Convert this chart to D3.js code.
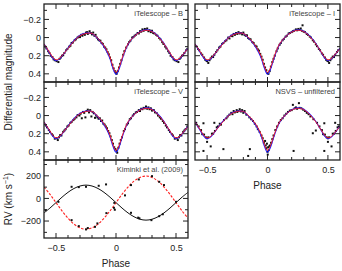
<!DOCTYPE html>
<html>
<head>
<meta charset="utf-8">
<script src="https://cdn.jsdelivr.net/npm/d3@7"></script>
<style>
body { margin: 0; background: #fff; }
svg { display: block; font-family: "Liberation Sans", Arial, Helvetica, sans-serif; }
</style>
</head>
<body>
<script>
// model light curves, shared by the four photometric panels
var modelPhase = [-0.6,-0.575,-0.55,-0.525,-0.5,-0.475,-0.45,-0.425,-0.4,-0.35,-0.3,-0.25,-0.2,-0.15,-0.1,-0.075,-0.05,-0.025,0,0.025,0.05,0.075,0.1,0.15,0.2,0.25,0.3,0.35,0.4,0.425,0.45,0.475,0.5,0.525,0.55,0.575,0.6];
var redMag  = [0.07,0.12,0.17,0.22,0.245,0.235,0.2,0.16,0.12,0.04,-0.02,-0.045,-0.045,0.01,0.09,0.145,0.215,0.32,0.385,0.33,0.23,0.14,0.07,-0.01,-0.06,-0.08,-0.065,-0.01,0.07,0.12,0.17,0.22,0.245,0.235,0.2,0.16,0.12];
var blueMag = [0.07,0.125,0.18,0.23,0.255,0.24,0.205,0.16,0.115,0.035,-0.025,-0.05,-0.045,0.015,0.1,0.16,0.235,0.34,0.405,0.35,0.245,0.15,0.075,-0.01,-0.065,-0.085,-0.07,-0.015,0.065,0.12,0.175,0.23,0.255,0.24,0.205,0.16,0.115];

// observations [phase, differential magnitude]
var dataB = [[-0.495,0.26],[-0.48,0.27],[-0.47,0.235],[-0.46,0.22],[-0.45,0.2],[-0.44,0.195],[-0.43,0.17],[-0.415,0.14],[-0.405,0.125],[-0.39,0.1],[-0.38,0.09],[-0.37,0.06],[-0.36,0.055],[-0.345,0.03],[-0.335,0.02],[-0.32,0],[-0.31,-0.01],[-0.3,-0.005],[-0.29,-0.03],[-0.28,-0.02],[-0.27,-0.04],[-0.26,-0.03],[-0.25,-0.055],[-0.24,-0.06],[-0.235,-0.04],[-0.22,-0.07],[-0.21,-0.05],[-0.2,-0.035],[-0.19,-0.055],[-0.18,-0.02],[-0.17,-0.03],[-0.16,0],[-0.15,0.02],[-0.14,0.03],[-0.13,0.035],[-0.12,0.06],[-0.11,0.07],[-0.1,0.1],[-0.09,0.11],[-0.08,0.13],[-0.07,0.16],[-0.06,0.185],[-0.05,0.22],[-0.04,0.25],[-0.03,0.3],[-0.02,0.34],[-0.01,0.37],[0,0.39],[0.005,0.4],[0.015,0.37],[0.025,0.33],[0.035,0.29],[0.045,0.25],[0.06,0.19],[0.07,0.15],[0.085,0.11],[0.1,0.075],[0.11,0.05],[0.12,0.035],[0.135,0],[0.145,-0.005],[0.155,-0.02],[0.165,-0.03],[0.18,-0.05],[0.19,-0.045],[0.2,-0.07],[0.21,-0.065],[0.22,-0.09],[0.23,-0.075],[0.24,-0.095],[0.25,-0.085],[0.26,-0.1],[0.27,-0.07],[0.28,-0.08],[0.29,-0.06],[0.3,-0.075],[0.31,-0.05],[0.32,-0.045],[0.335,-0.03],[0.345,-0.02],[0.36,0.005],[0.37,0.02],[0.385,0.05],[0.395,0.07],[0.41,0.1],[0.42,0.12],[0.435,0.15],[0.445,0.17],[0.455,0.2],[0.47,0.215],[0.48,0.24],[0.49,0.25]];
var dataV = [[-0.495,0.25],[-0.485,0.27],[-0.475,0.24],[-0.465,0.215],[-0.455,0.22],[-0.44,0.18],[-0.43,0.165],[-0.42,0.15],[-0.405,0.12],[-0.395,0.11],[-0.38,0.08],[-0.37,0.07],[-0.355,0.05],[-0.345,0.035],[-0.33,0.02],[-0.32,-0.005],[-0.305,0],[-0.295,-0.02],[-0.285,0.03],[-0.275,-0.04],[-0.265,-0.03],[-0.255,0.02],[-0.245,-0.05],[-0.235,-0.065],[-0.225,-0.035],[-0.215,-0.06],[-0.205,0.01],[-0.195,-0.04],[-0.185,-0.025],[-0.175,0.025],[-0.165,0],[-0.155,0.02],[-0.145,0.035],[-0.135,0.03],[-0.125,0.06],[-0.115,0.055],[-0.105,0.09],[-0.095,0.1],[-0.085,0.12],[-0.075,0.14],[-0.065,0.17],[-0.055,0.195],[-0.045,0.23],[-0.035,0.27],[-0.025,0.31],[-0.015,0.35],[-0.005,0.37],[0.005,0.39],[0.01,0.41],[0.02,0.355],[0.03,0.31],[0.04,0.27],[0.05,0.24],[0.065,0.17],[0.075,0.15],[0.09,0.1],[0.1,0.085],[0.115,0.04],[0.125,0.03],[0.14,0],[0.15,-0.015],[0.165,-0.035],[0.175,-0.04],[0.19,-0.06],[0.2,-0.05],[0.21,-0.075],[0.22,-0.07],[0.23,-0.085],[0.24,-0.08],[0.25,-0.1],[0.26,-0.075],[0.27,-0.09],[0.28,-0.07],[0.29,-0.08],[0.3,-0.055],[0.315,-0.06],[0.325,-0.035],[0.34,-0.025],[0.35,0],[0.365,0.02],[0.375,0.035],[0.39,0.06],[0.4,0.08],[0.415,0.11],[0.425,0.13],[0.44,0.16],[0.45,0.18],[0.465,0.205],[0.475,0.22],[0.49,0.255]];
var dataI = [[-0.5,0.26],[-0.49,0.28],[-0.48,0.25],[-0.47,0.23],[-0.46,0.21],[-0.45,0.215],[-0.44,0.19],[-0.425,0.16],[-0.415,0.14],[-0.4,0.11],[-0.39,0.1],[-0.375,0.07],[-0.365,0.06],[-0.35,0.04],[-0.34,0.03],[-0.325,0],[-0.315,0.01],[-0.3,-0.02],[-0.29,-0.015],[-0.28,-0.04],[-0.27,-0.03],[-0.26,-0.05],[-0.25,-0.04],[-0.24,-0.06],[-0.23,-0.045],[-0.22,-0.05],[-0.21,-0.035],[-0.2,-0.055],[-0.19,-0.03],[-0.18,-0.02],[-0.17,-0.025],[-0.16,0.005],[-0.15,0.015],[-0.14,0.02],[-0.125,0.05],[-0.115,0.06],[-0.1,0.09],[-0.09,0.1],[-0.08,0.13],[-0.07,0.145],[-0.06,0.18],[-0.05,0.21],[-0.04,0.245],[-0.03,0.29],[-0.02,0.33],[-0.01,0.36],[0,0.39],[0.008,0.4],[0.018,0.37],[0.028,0.32],[0.04,0.27],[0.05,0.235],[0.06,0.2],[0.075,0.15],[0.085,0.12],[0.1,0.08],[0.11,0.06],[0.125,0.03],[0.135,0.015],[0.15,-0.01],[0.16,-0.02],[0.175,-0.045],[0.185,-0.05],[0.2,-0.06],[0.21,-0.07],[0.22,-0.075],[0.235,-0.09],[0.245,-0.08],[0.255,-0.095],[0.265,-0.085],[0.275,-0.1],[0.285,-0.075],[0.29,-0.135],[0.3,-0.065],[0.31,-0.06],[0.325,-0.04],[0.335,-0.03],[0.35,-0.01],[0.36,0],[0.375,0.03],[0.385,0.045],[0.4,0.075],[0.41,0.095],[0.425,0.125],[0.435,0.14],[0.45,0.175],[0.46,0.19],[0.475,0.22],[0.485,0.245],[0.495,0.255]];
var dataN = [[-0.5,0.25],[-0.49,0.24],[-0.47,0.34],[-0.46,0.2],[-0.45,0.2],[-0.44,0.08],[-0.435,0.17],[-0.42,0.13],[-0.41,0.12],[-0.395,0.09],[-0.385,0.1],[-0.365,0.37],[-0.36,0.05],[-0.34,0.03],[-0.33,0.01],[-0.315,-0.01],[-0.3,-0.03],[-0.29,-0.015],[-0.28,-0.05],[-0.27,-0.035],[-0.255,-0.06],[-0.25,-0.04],[-0.24,-0.05],[-0.23,-0.07],[-0.22,-0.045],[-0.21,-0.06],[-0.2,-0.03],[-0.19,-0.05],[-0.175,-0.01],[-0.16,0.445],[-0.146,0.37],[-0.15,0.02],[-0.135,0.04],[-0.12,0.06],[-0.105,0.09],[-0.09,0.12],[-0.08,0.15],[-0.065,0.18],[-0.05,0.22],[-0.04,0.25],[-0.03,0.3],[-0.02,0.28],[-0.015,0.33],[-0.01,0.36],[-0.005,0.31],[0,0.4],[0.002,0.43],[0.005,0.35],[0.01,0.38],[0.015,0.34],[0.02,0.33],[0.03,0.3],[0.04,0.26],[0.05,0.22],[0.065,0.16],[0.08,0.12],[0.095,0.08],[0.11,0.05],[0.125,0.03],[0.14,0],[0.155,-0.02],[0.17,-0.04],[0.185,-0.055],[0.2,-0.06],[0.21,-0.118],[0.216,0.39],[0.225,-0.08],[0.235,-0.09],[0.245,-0.075],[0.26,-0.137],[0.265,-0.085],[0.28,-0.08],[0.295,-0.065],[0.31,-0.05],[0.325,-0.03],[0.34,-0.015],[0.355,0.01],[0.375,0.195],[0.38,0.04],[0.4,0.165],[0.41,0.08],[0.43,0.12],[0.45,0.16],[0.46,0.205],[0.47,0.39],[0.475,0.21],[0.47,0.085],[0.49,0.24],[0.5,0.29]];

// radial velocity curves (km/s) and measurements
var rvPhase = [-0.6,-0.55,-0.5,-0.45,-0.4,-0.35,-0.3,-0.25,-0.2,-0.15,-0.1,-0.05,0,0.05,0.1,0.15,0.2,0.25,0.3,0.35,0.4,0.45,0.5,0.55,0.6];
var rvPrimary   = [-128,-85,-37,11,54,88,110,118,110,88,54,11,-37,-85,-128,-162,-184,-192,-184,-162,-128,-85,-37,11,54];
var rvSecondary = [101,36,-37,-110,-175,-227,-260,-272,-260,-227,-175,-110,-37,36,101,153,186,198,186,153,101,36,-37,-110,-175];
var rvObsPrimary = [[-0.586,-104],[-0.48,-30],[-0.37,103],[-0.31,100],[-0.25,103],[-0.144,112],[-0.083,124],[-0.017,-83],[-0.01,-100],[0.125,-127],[0.185,-170],[0.195,-176],[0.295,-192],[0.36,-157],[0.39,-140],[0.5,-30]];
var rvObsSecondary = [[-0.37,-192],[-0.31,-245],[-0.25,-274],[-0.235,-262],[-0.175,-251],[-0.155,-221],[-0.08,-130],[-0.014,-39],[0.075,27],[0.125,118],[0.19,168],[0.3,197],[0.36,147],[0.4,118]];

var width = 342, height = 271;
var cols = [[44, 188], [195, 340]];
var rows = [[4, 82], [82, 160], [160, 238]];

var panels = [
  {col: 0, row: 0, label: "iTelescope \u2013 B", data: dataB, type: "lc", yLabels: true},
  {col: 1, row: 0, label: "iTelescope \u2013 I", data: dataI, type: "lc"},
  {col: 0, row: 1, label: "iTelescope \u2013 V", data: dataV, type: "lc", yLabels: true},
  {col: 1, row: 1, label: "NSVS \u2013 unfiltered", data: dataN, type: "lc", xLabels: true},
  {col: 0, row: 2, label: "Kiminki et al. (2009)", type: "rv", yLabels: true, xLabels: true}
];

var svg = d3.select("body").append("svg")
    .attr("width", width)
    .attr("height", height);

var defs = svg.append("defs");

// points near the ends of the phase range are shown twice (phase +/- 1)
function wrap(data) {
  var out = [];
  data.forEach(function(d) {
    out.push(d);
    if (d[0] > 0.4) out.push([d[0] - 1, d[1]]);
    if (d[0] < -0.4) out.push([d[0] + 1, d[1]]);
  });
  return out;
}

panels.forEach(function(p, i) {
  var xr = cols[p.col], yr = rows[p.row];
  var x = d3.scaleLinear().domain([-0.6, 0.6]).range(xr);
  var y = p.type == "lc"
    ? d3.scaleLinear().domain([-0.37, 0.49]).range(yr)
    : d3.scaleLinear().domain([-350, 340]).range([yr[1], yr[0]]);

  defs.append("clipPath").attr("id", "clip" + i)
    .append("rect")
    .attr("x", xr[0]).attr("y", yr[0])
    .attr("width", xr[1] - xr[0]).attr("height", yr[1] - yr[0]);

  var plot = svg.append("g").attr("clip-path", "url(#clip" + i + ")");

  var line = d3.line()
    .x(function(d) { return x(d[0]); })
    .y(function(d) { return y(d[1]); })
    .curve(d3.curveCatmullRom);

  var pts;
  if (p.type == "lc") {
    pts = wrap(p.data);
    plot.selectAll(".pt").data(pts).enter().append("rect")
      .attr("x", function(d) { return x(d[0]) - 1; })
      .attr("y", function(d) { return y(d[1]) - 1; })
      .attr("width", 2).attr("height", 2)
      .attr("fill", "#111");
    plot.append("path").datum(d3.zip(modelPhase, blueMag))
      .attr("fill", "none").attr("stroke", "#1f1fff").attr("stroke-width", 1.1)
      .attr("d", line);
    plot.append("path").datum(d3.zip(modelPhase, redMag))
      .attr("fill", "none").attr("stroke", "#ff1a1a").attr("stroke-width", 0.9)
      .attr("d", line);
  } else {
    plot.append("path").datum(d3.zip(rvPhase, rvPrimary))
      .attr("fill", "none").attr("stroke", "#111").attr("stroke-width", 1)
      .attr("d", line);
    plot.append("path").datum(d3.zip(rvPhase, rvSecondary))
      .attr("fill", "none").attr("stroke", "#ff2020").attr("stroke-width", 1.1)
      .attr("stroke-dasharray", "2.5,1.5")
      .attr("d", line);
    pts = rvObsPrimary.concat(rvObsSecondary);
    plot.selectAll(".pt").data(pts).enter().append("rect")
      .attr("x", function(d) { return x(d[0]) - 1; })
      .attr("y", function(d) { return y(d[1]) - 1; })
      .attr("width", 2).attr("height", 2)
      .attr("fill", "#111");
  }

  // inward ticks on all four sides
  var tk = svg.append("g").attr("stroke", "#222").attr("stroke-width", 1);
  var xt = x.ticks(12).filter(function(d) { return Math.abs(d) < 0.59; });
  xt.forEach(function(d) {
    var len = Math.abs(d * 2 - Math.round(d * 2)) < 1e-6 ? 5 : 3;
    tk.append("line").attr("x1", x(d)).attr("x2", x(d)).attr("y1", yr[0]).attr("y2", yr[0] + len);
    tk.append("line").attr("x1", x(d)).attr("x2", x(d)).attr("y1", yr[1]).attr("y2", yr[1] - len);
  });
  var yt = p.type == "lc" ? y.ticks(9) : y.ticks(7);
  yt.forEach(function(d) {
    var major = p.type == "lc" ? Math.abs(d * 5 - Math.round(d * 5)) < 1e-6 : d % 200 == 0;
    var len = major ? 5 : 3;
    tk.append("line").attr("y1", y(d)).attr("y2", y(d)).attr("x1", xr[0]).attr("x2", xr[0] + len);
    tk.append("line").attr("y1", y(d)).attr("y2", y(d)).attr("x1", xr[1]).attr("x2", xr[1] - len);
  });

  svg.append("rect")
    .attr("x", xr[0]).attr("y", yr[0])
    .attr("width", xr[1] - xr[0]).attr("height", yr[1] - yr[0])
    .attr("fill", "none").attr("stroke", "#222").attr("stroke-width", 1.3);

  var fmt = function(d) { return d == 0 ? "0" : (p.type == "lc" ? d3.format(".1f")(d) : d3.format("d")(d)); };

  if (p.yLabels) {
    var majors = p.type == "lc" ? [-0.2, 0, 0.2, 0.4] : [-200, 0, 200];
    svg.append("g")
      .attr("transform", "translate(" + xr[0] + ",0)")
      .call(d3.axisLeft(y).tickValues(majors).tickSize(0).tickPadding(3).tickFormat(fmt))
      .call(function(g) { g.select(".domain").remove(); })
      .attr("font-size", 9).attr("font-family", null)
      .selectAll("text").attr("fill", "#222");
  }
  if (p.xLabels) {
    svg.append("g")
      .attr("transform", "translate(0," + yr[1] + ")")
      .call(d3.axisBottom(x).tickValues([-0.5, 0, 0.5]).tickSize(0).tickPadding(7).tickFormat(function(d) { return d == 0 ? "0" : d3.format(".1f")(d); }))
      .call(function(g) { g.select(".domain").remove(); })
      .attr("font-size", 9).attr("font-family", null)
      .selectAll("text").attr("fill", "#222");
    svg.append("text")
      .attr("x", (xr[0] + xr[1]) / 2).attr("y", yr[1] + 29)
      .attr("text-anchor", "middle").attr("font-size", 10).attr("fill", "#222")
      .text("Phase");
  }

  svg.append("text")
    .attr("x", xr[1] - 5).attr("y", yr[0] + 11.5)
    .attr("text-anchor", "end").attr("font-size", 7.5).attr("fill", "#444")
    .text(p.label);
});

svg.append("text")
  .attr("transform", "translate(12," + rows[1][0] + ") rotate(-90)")
  .attr("text-anchor", "middle").attr("font-size", 10).attr("fill", "#222")
  .text("Differential magnitude");

var rvLab = svg.append("text")
  .attr("transform", "translate(12," + (rows[2][0] + rows[2][1]) / 2 + ") rotate(-90)")
  .attr("text-anchor", "middle").attr("font-size", 10).attr("fill", "#222");
rvLab.append("tspan").text("RV (km s");
rvLab.append("tspan").attr("font-size", 7).attr("dy", -4).text("\u22121");
rvLab.append("tspan").attr("dy", 4).text(")");
</script>
</body>
</html>
